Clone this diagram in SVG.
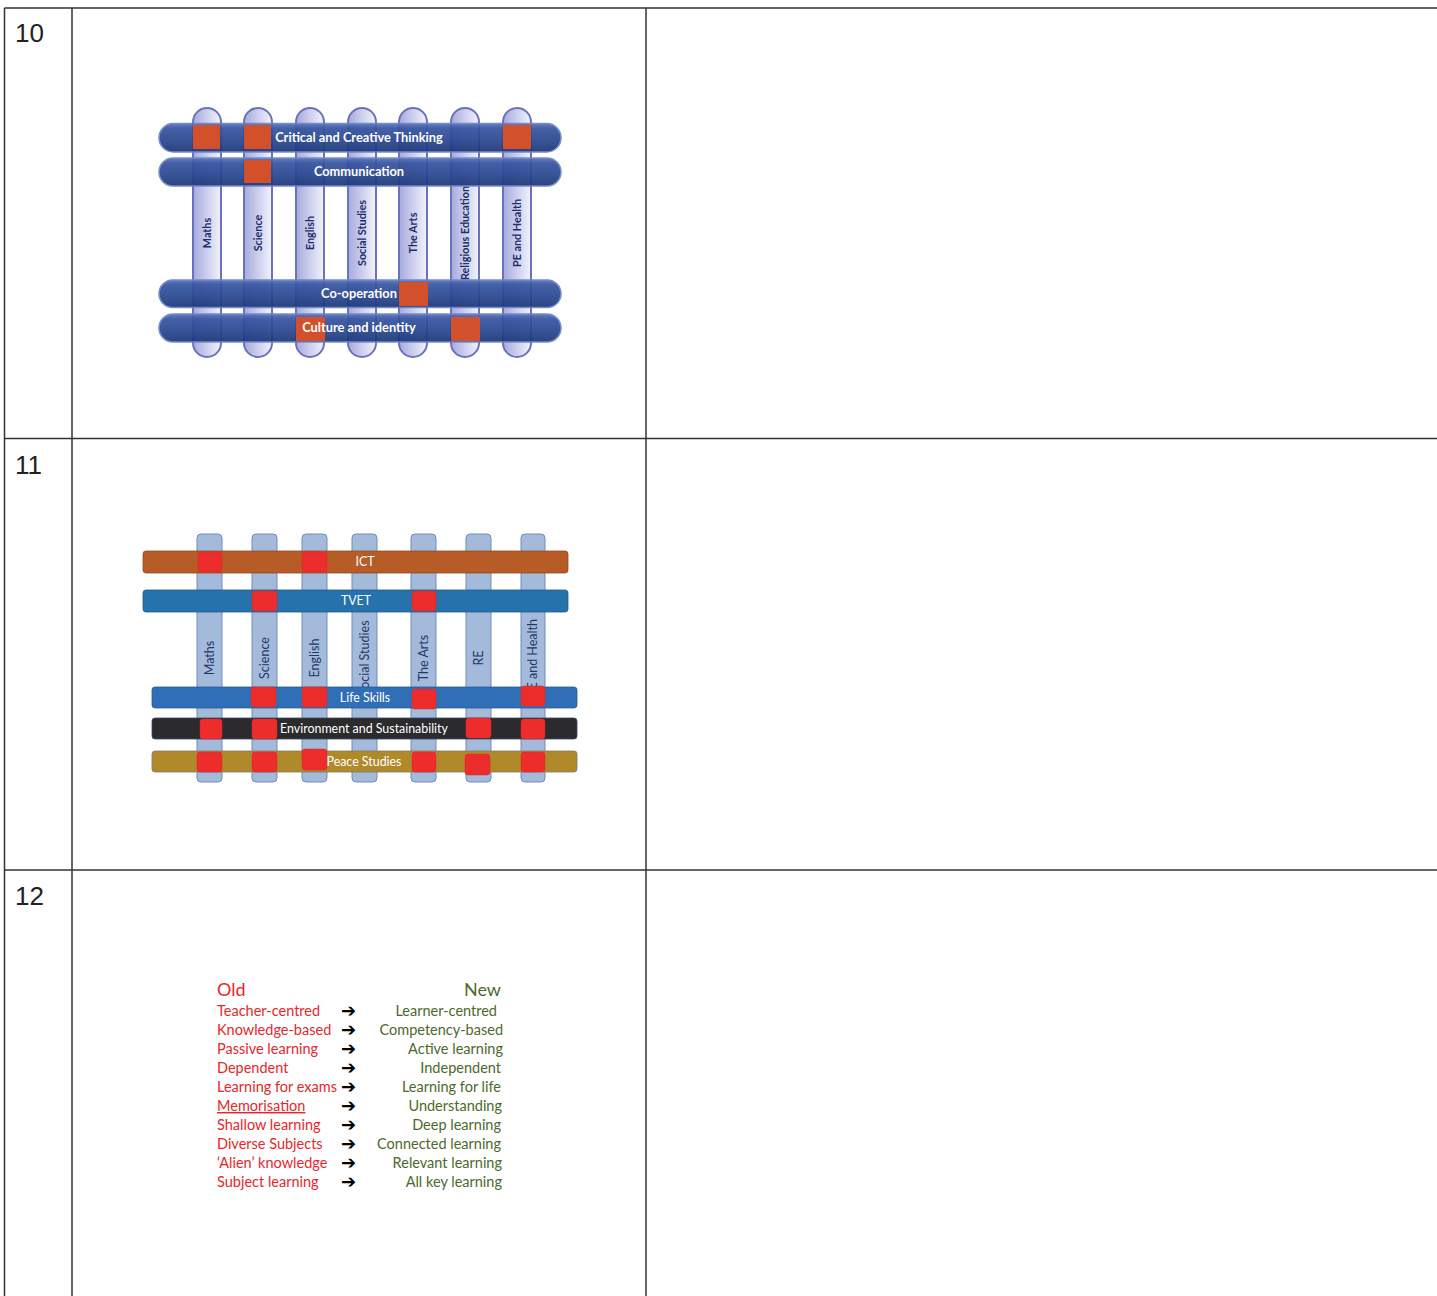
<svg xmlns="http://www.w3.org/2000/svg" width="1437" height="1296" viewBox="0 0 1437 1296">
<defs>
<linearGradient id="barG" x1="0" y1="0" x2="0" y2="1">
<stop offset="0" stop-color="#5a72bb"/>
<stop offset="0.18" stop-color="#3654a0"/>
<stop offset="0.6" stop-color="#2a4890"/>
<stop offset="1" stop-color="#1b3676"/>
</linearGradient>
<linearGradient id="pilG" x1="0" y1="0" x2="1" y2="0">
<stop offset="0" stop-color="#a6aadd"/>
<stop offset="0.6" stop-color="#d4d6f0"/>
<stop offset="1" stop-color="#f2f3fb"/>
</linearGradient>
<style>
.grid{stroke:#333;stroke-width:1.5;fill:none}
.num{font-family:"Liberation Sans",Arial,sans-serif;font-size:26px;fill:#222}
.p10{fill:url(#pilG);stroke:#6a72c0;stroke-width:2}
.b10{fill:url(#barG);stroke:#6d84c8;stroke-width:1.5;opacity:0.93}
.o10{fill:#d2502a}
.l10{font-family:Lato,"Open Sans",sans-serif;font-weight:bold;font-size:12.8px;fill:#fff;text-anchor:middle}
.v10{font-family:Lato,"Open Sans",sans-serif;font-weight:bold;font-size:10.8px;fill:#1f2d6b;text-anchor:middle}
.p11{fill:#a3badb;stroke:#6e8dbd;stroke-width:1}
.r11{fill:#ed2d2b;stroke:#d42a2a;stroke-width:0.5}
.l11{font-family:Lato,"Open Sans",sans-serif;font-size:12.4px;fill:#fff;text-anchor:middle}
.v11{font-family:Lato,"Open Sans",sans-serif;font-size:12.5px;fill:#1f3864;text-anchor:middle}
.old{font-family:Lato,"Open Sans",sans-serif;font-size:14.5px;fill:#e8262a}
.new{font-family:Lato,"Open Sans",sans-serif;font-size:14.5px;fill:#4b6a2a;text-anchor:end}
.arr{font-family:"DejaVu Sans",sans-serif;font-size:18px;fill:#000;font-weight:bold}
</style>
</defs>
<rect width="1437" height="1296" fill="#fff"/>

<g id="table">
<line class="grid" x1="4.5" y1="8" x2="1437" y2="8"/>
<line class="grid" x1="4.5" y1="438.5" x2="1437" y2="438.5"/>
<line class="grid" x1="4.5" y1="870" x2="1437" y2="870"/>
<line class="grid" x1="4.5" y1="8" x2="4.5" y2="1296"/>
<line class="grid" x1="72" y1="8" x2="72" y2="1296"/>
<line class="grid" x1="646" y1="8" x2="646" y2="1296"/>
<text class="num" x="15" y="42">10</text>
<text class="num" x="15" y="474">11</text>
<text class="num" x="15" y="905">12</text>
</g>

<g id="diagram10">
<g id="pillars10">
<rect class="p10" x="193" y="108" width="28" height="249" rx="14"/>
<rect class="p10" x="244" y="108" width="28" height="249" rx="14"/>
<rect class="p10" x="296" y="108" width="28" height="249" rx="14"/>
<rect class="p10" x="348" y="108" width="28" height="249" rx="14"/>
<rect class="p10" x="399" y="108" width="28" height="249" rx="14"/>
<rect class="p10" x="451" y="108" width="28" height="249" rx="14"/>
<rect class="p10" x="503" y="108" width="28" height="249" rx="14"/>
<text class="v10" transform="translate(211,233) rotate(-90)">Maths</text>
<text class="v10" transform="translate(262,233) rotate(-90)">Science</text>
<text class="v10" transform="translate(314,233) rotate(-90)">English</text>
<text class="v10" transform="translate(366,233) rotate(-90)">Social Studies</text>
<text class="v10" transform="translate(417,233) rotate(-90)">The Arts</text>
<text class="v10" transform="translate(469,233) rotate(-90)">Religious Education</text>
<text class="v10" transform="translate(521,233) rotate(-90)">PE and Health</text>
</g>
<g id="bar-critical">
<rect class="b10" x="159" y="123.5" width="402" height="28.5" rx="14.25"/>
<rect class="o10" x="193" y="125" width="27" height="24"/>
<rect class="o10" x="244" y="125" width="27" height="24"/>
<rect class="o10" x="503" y="125" width="28" height="24"/>
<text class="l10" x="359" y="141.5">Critical and Creative Thinking</text>
</g>
<g id="bar-communication">
<rect class="b10" x="159" y="158" width="402" height="28" rx="14"/>
<rect class="o10" x="244" y="160" width="27" height="23"/>
<text class="l10" x="359" y="175.5">Communication</text>
</g>
<g id="bar-cooperation">
<rect class="b10" x="159" y="280" width="402" height="27.5" rx="13.75"/>
<rect class="o10" x="399" y="282" width="29" height="24"/>
<text class="l10" x="359" y="297.5">Co-operation</text>
</g>
<g id="bar-culture">
<rect class="b10" x="159" y="314" width="402" height="28" rx="14"/>
<rect class="o10" x="296" y="317" width="29" height="24"/>
<rect class="o10" x="451" y="317" width="29" height="24"/>
<text class="l10" x="359" y="331.5">Culture and identity</text>
</g>
</g>

<g id="diagram11">
<g id="pillars11">
<rect class="p11" x="197" y="534" width="25" height="248" rx="4"/>
<rect class="p11" x="252" y="534" width="25" height="248" rx="4"/>
<rect class="p11" x="302" y="534" width="25" height="248" rx="4"/>
<rect class="p11" x="352" y="534" width="25" height="248" rx="4"/>
<rect class="p11" x="411" y="534" width="25" height="248" rx="4"/>
<rect class="p11" x="466" y="534" width="25" height="248" rx="4"/>
<rect class="p11" x="521" y="534" width="24" height="248" rx="4"/>
<text class="v11" transform="translate(214,658) rotate(-90)">Maths</text>
<text class="v11" transform="translate(269,658) rotate(-90)">Science</text>
<text class="v11" transform="translate(319,658) rotate(-90)">English</text>
<text class="v11" transform="translate(369,658) rotate(-90)">Social Studies</text>
<text class="v11" transform="translate(428,658) rotate(-90)">The Arts</text>
<text class="v11" transform="translate(483,658) rotate(-90)">RE</text>
<text class="v11" transform="translate(537,658) rotate(-90)">PE and Health</text>
</g>
<g id="bar-ict">
<rect x="143" y="551" width="425" height="22" rx="3" fill="#b75c27" stroke="#8f4a22" stroke-width="0.8"/>
<rect class="r11" x="198" y="552" width="24" height="20" rx="3"/>
<rect class="r11" x="302" y="552" width="25" height="20" rx="3"/>
<text class="l11" x="365" y="566">ICT</text>
</g>
<g id="bar-tvet">
<rect x="143" y="590" width="425" height="22" rx="3" fill="#2672ad" stroke="#1f5c8c" stroke-width="0.8"/>
<rect class="r11" x="252" y="591" width="25" height="20" rx="3"/>
<rect class="r11" x="412" y="591" width="24" height="20" rx="3"/>
<text class="l11" x="356" y="605">TVET</text>
</g>
<g id="bar-lifeskills">
<rect x="152" y="687" width="425" height="21" rx="3" fill="#306fb8" stroke="#2a5c96" stroke-width="0.8"/>
<rect class="r11" x="251" y="687" width="25" height="20" rx="3"/>
<rect class="r11" x="302" y="687" width="25" height="20" rx="3"/>
<rect class="r11" x="412" y="689" width="24" height="20" rx="3"/>
<rect class="r11" x="521" y="686" width="24" height="20" rx="3"/>
<text class="l11" x="365" y="702">Life Skills</text>
</g>
<g id="bar-environment">
<rect x="152" y="718" width="425" height="21" rx="3" fill="#2b2b2e" stroke="#3a4a66" stroke-width="0.8"/>
<rect class="r11" x="200" y="719" width="22" height="20" rx="3"/>
<rect class="r11" x="252" y="719" width="25" height="20" rx="3"/>
<rect class="r11" x="466" y="718" width="25" height="20" rx="3"/>
<rect class="r11" x="521" y="719" width="24" height="20" rx="3"/>
<text class="l11" x="364" y="733">Environment and Sustainability</text>
</g>
<g id="bar-peace">
<rect x="152" y="751" width="425" height="21" rx="3" fill="#b08a2a" stroke="#7d7a6a" stroke-width="0.8"/>
<rect class="r11" x="197" y="752" width="25" height="20" rx="3"/>
<rect class="r11" x="252" y="752" width="25" height="20" rx="3"/>
<rect class="r11" x="302" y="749" width="25" height="21" rx="3"/>
<rect class="r11" x="412" y="752" width="24" height="20" rx="3"/>
<rect class="r11" x="465" y="754" width="25" height="21" rx="3"/>
<rect class="r11" x="521" y="752" width="24" height="20" rx="3"/>
<text class="l11" x="364" y="766">Peace Studies</text>
</g>
</g>

<g id="diagram12">
<g id="old-list">
<text class="old" x="217" y="996" style="font-size:18px">Old</text>
<text class="old" x="217" y="1016">Teacher-centred</text>
<text class="old" x="217" y="1035">Knowledge-based</text>
<text class="old" x="217" y="1054">Passive learning</text>
<text class="old" x="217" y="1073">Dependent</text>
<text class="old" x="217" y="1092">Learning for exams</text>
<text class="old" x="217" y="1111" text-decoration="underline">Memorisation</text>
<text class="old" x="217" y="1130">Shallow learning</text>
<text class="old" x="217" y="1149">Diverse Subjects</text>
<text class="old" x="217" y="1168">‘Alien’ knowledge</text>
<text class="old" x="217" y="1187">Subject learning</text>
</g>
<g id="arrows">
<text class="arr" x="341" y="1017">➔</text>
<text class="arr" x="341" y="1036">➔</text>
<text class="arr" x="341" y="1055">➔</text>
<text class="arr" x="341" y="1074">➔</text>
<text class="arr" x="341" y="1093">➔</text>
<text class="arr" x="341" y="1112">➔</text>
<text class="arr" x="341" y="1131">➔</text>
<text class="arr" x="341" y="1150">➔</text>
<text class="arr" x="341" y="1169">➔</text>
<text class="arr" x="341" y="1188">➔</text>
</g>
<g id="new-list">
<text class="new" x="501" y="996" style="font-size:18px">New</text>
<text class="new" x="497" y="1016">Learner-centred</text>
<text class="new" x="503" y="1035">Competency-based</text>
<text class="new" x="503" y="1054">Active learning</text>
<text class="new" x="501" y="1073">Independent</text>
<text class="new" x="501" y="1092">Learning for life</text>
<text class="new" x="502" y="1111">Understanding</text>
<text class="new" x="501" y="1130">Deep learning</text>
<text class="new" x="501" y="1149">Connected learning</text>
<text class="new" x="502" y="1168">Relevant learning</text>
<text class="new" x="502" y="1187">All key learning</text>
</g>
</g>
</svg>
